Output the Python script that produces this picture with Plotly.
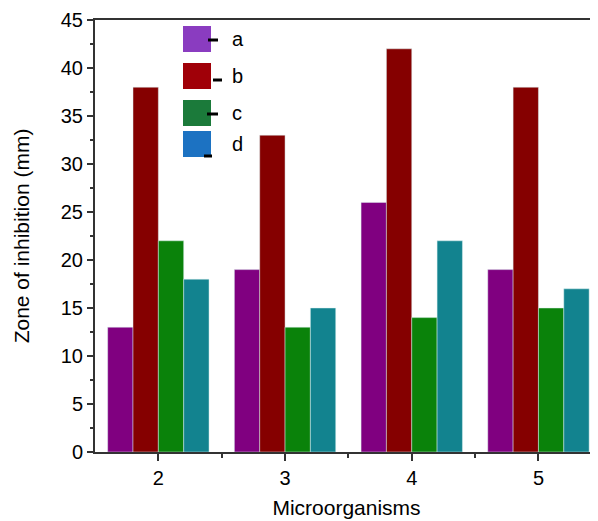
import plotly.graph_objects as go

# ---- data ----
microorganisms = [2, 3, 4, 5]
series_names = ["a", "b", "c", "d"]
values_a = [13, 19, 26, 19]
values_b = [38, 33, 42, 38]
values_c = [22, 13, 14, 15]
values_d = [18, 15, 22, 17]
y_ticks = [0, 5, 10, 15, 20, 25, 30, 35, 40, 45]

bar_colors = ["#800080", "#850000", "#0a820a", "#12838f"]
legend_colors = ["#8a3cc0", "#a00008", "#1b7a3a", "#1c72c2"]

# page body has an 8px default margin, so the figure is sized to fit the window
OFF = 8
W, H = 598 - OFF, 521 - OFF
ML, MR, MT, MB = 95 - OFF, 0, 20 - OFF, 69

fig = go.Figure()
for name, vals, col in zip(series_names, [values_a, values_b, values_c, values_d], bar_colors):
    fig.add_trace(go.Bar(
        x=microorganisms, y=vals, name=name,
        marker=dict(color=col, line=dict(color="rgba(220,240,240,0.6)", width=0.8)),
        showlegend=False,
    ))

font_family = "Liberation Sans, Arial, sans-serif"

fig.update_layout(
    width=W, height=H,
    margin=dict(l=ML, r=MR, t=MT, b=MB),
    paper_bgcolor="white", plot_bgcolor="white",
    barmode="group", bargap=0.2, bargroupgap=0,
    font=dict(family=font_family, color="black", size=20),
    xaxis=dict(
        range=[1.5, 5.47], tickmode="array", tickvals=microorganisms,
        ticktext=[str(v) for v in microorganisms],
        showgrid=False, zeroline=False, automargin=False,
        showline=True, linecolor="#333", linewidth=2, mirror=True,
        ticks="outside", ticklen=7, tickwidth=2, tickcolor="#333",
        minor=dict(tickvals=[2.5, 3.5, 4.5], ticks="outside", ticklen=4, tickwidth=2, tickcolor="#333"),
        tickfont=dict(size=20),
        title=dict(text="Microorganisms", font=dict(size=21), standoff=12),
    ),
    yaxis=dict(
        range=[0, 45], tickmode="array", tickvals=y_ticks,
        showgrid=False, zeroline=False, automargin=False,
        showline=True, linecolor="#333", linewidth=2,
        ticks="outside", ticklen=6, tickwidth=2, tickcolor="#333",
        minor=dict(dtick=2.5, ticks="outside", ticklen=3, tickwidth=2, tickcolor="#333"),
        tickfont=dict(size=20),
        title=dict(text="Zone of inhibition (mm)", font=dict(size=21), standoff=25),
    ),
)

# ---- custom legend (large square swatches as in the reference) ----
pw, ph = W - ML - MR, H - MT - MB

def px_x(px):
    # page pixel -> paper fraction
    return (px - OFF - ML) / pw

def px_y(py):
    return (H - MB - (py - OFF)) / ph

swatch_tops = [26, 63, 100, 131]
dash_specs = [(208, 218, 40), (213, 222, 80), (207, 218, 114), (204, 212, 156)]
for name, col, top, (dx0, dx1, dy) in zip(series_names, legend_colors, swatch_tops, dash_specs):
    fig.add_shape(type="rect", xref="paper", yref="paper",
                  x0=px_x(183), x1=px_x(211), y0=px_y(top + 26), y1=px_y(top),
                  fillcolor=col, line=dict(width=0))
    fig.add_shape(type="line", xref="paper", yref="paper",
                  x0=px_x(dx0), x1=px_x(dx1), y0=px_y(dy), y1=px_y(dy),
                  line=dict(color="black", width=3))
    fig.add_annotation(xref="paper", yref="paper", x=px_x(230), y=px_y(top + 13),
                       text=name, showarrow=False, xanchor="left", yanchor="middle",
                       font=dict(size=20, family=font_family, color="black"))

fig.write_html("out.html")
